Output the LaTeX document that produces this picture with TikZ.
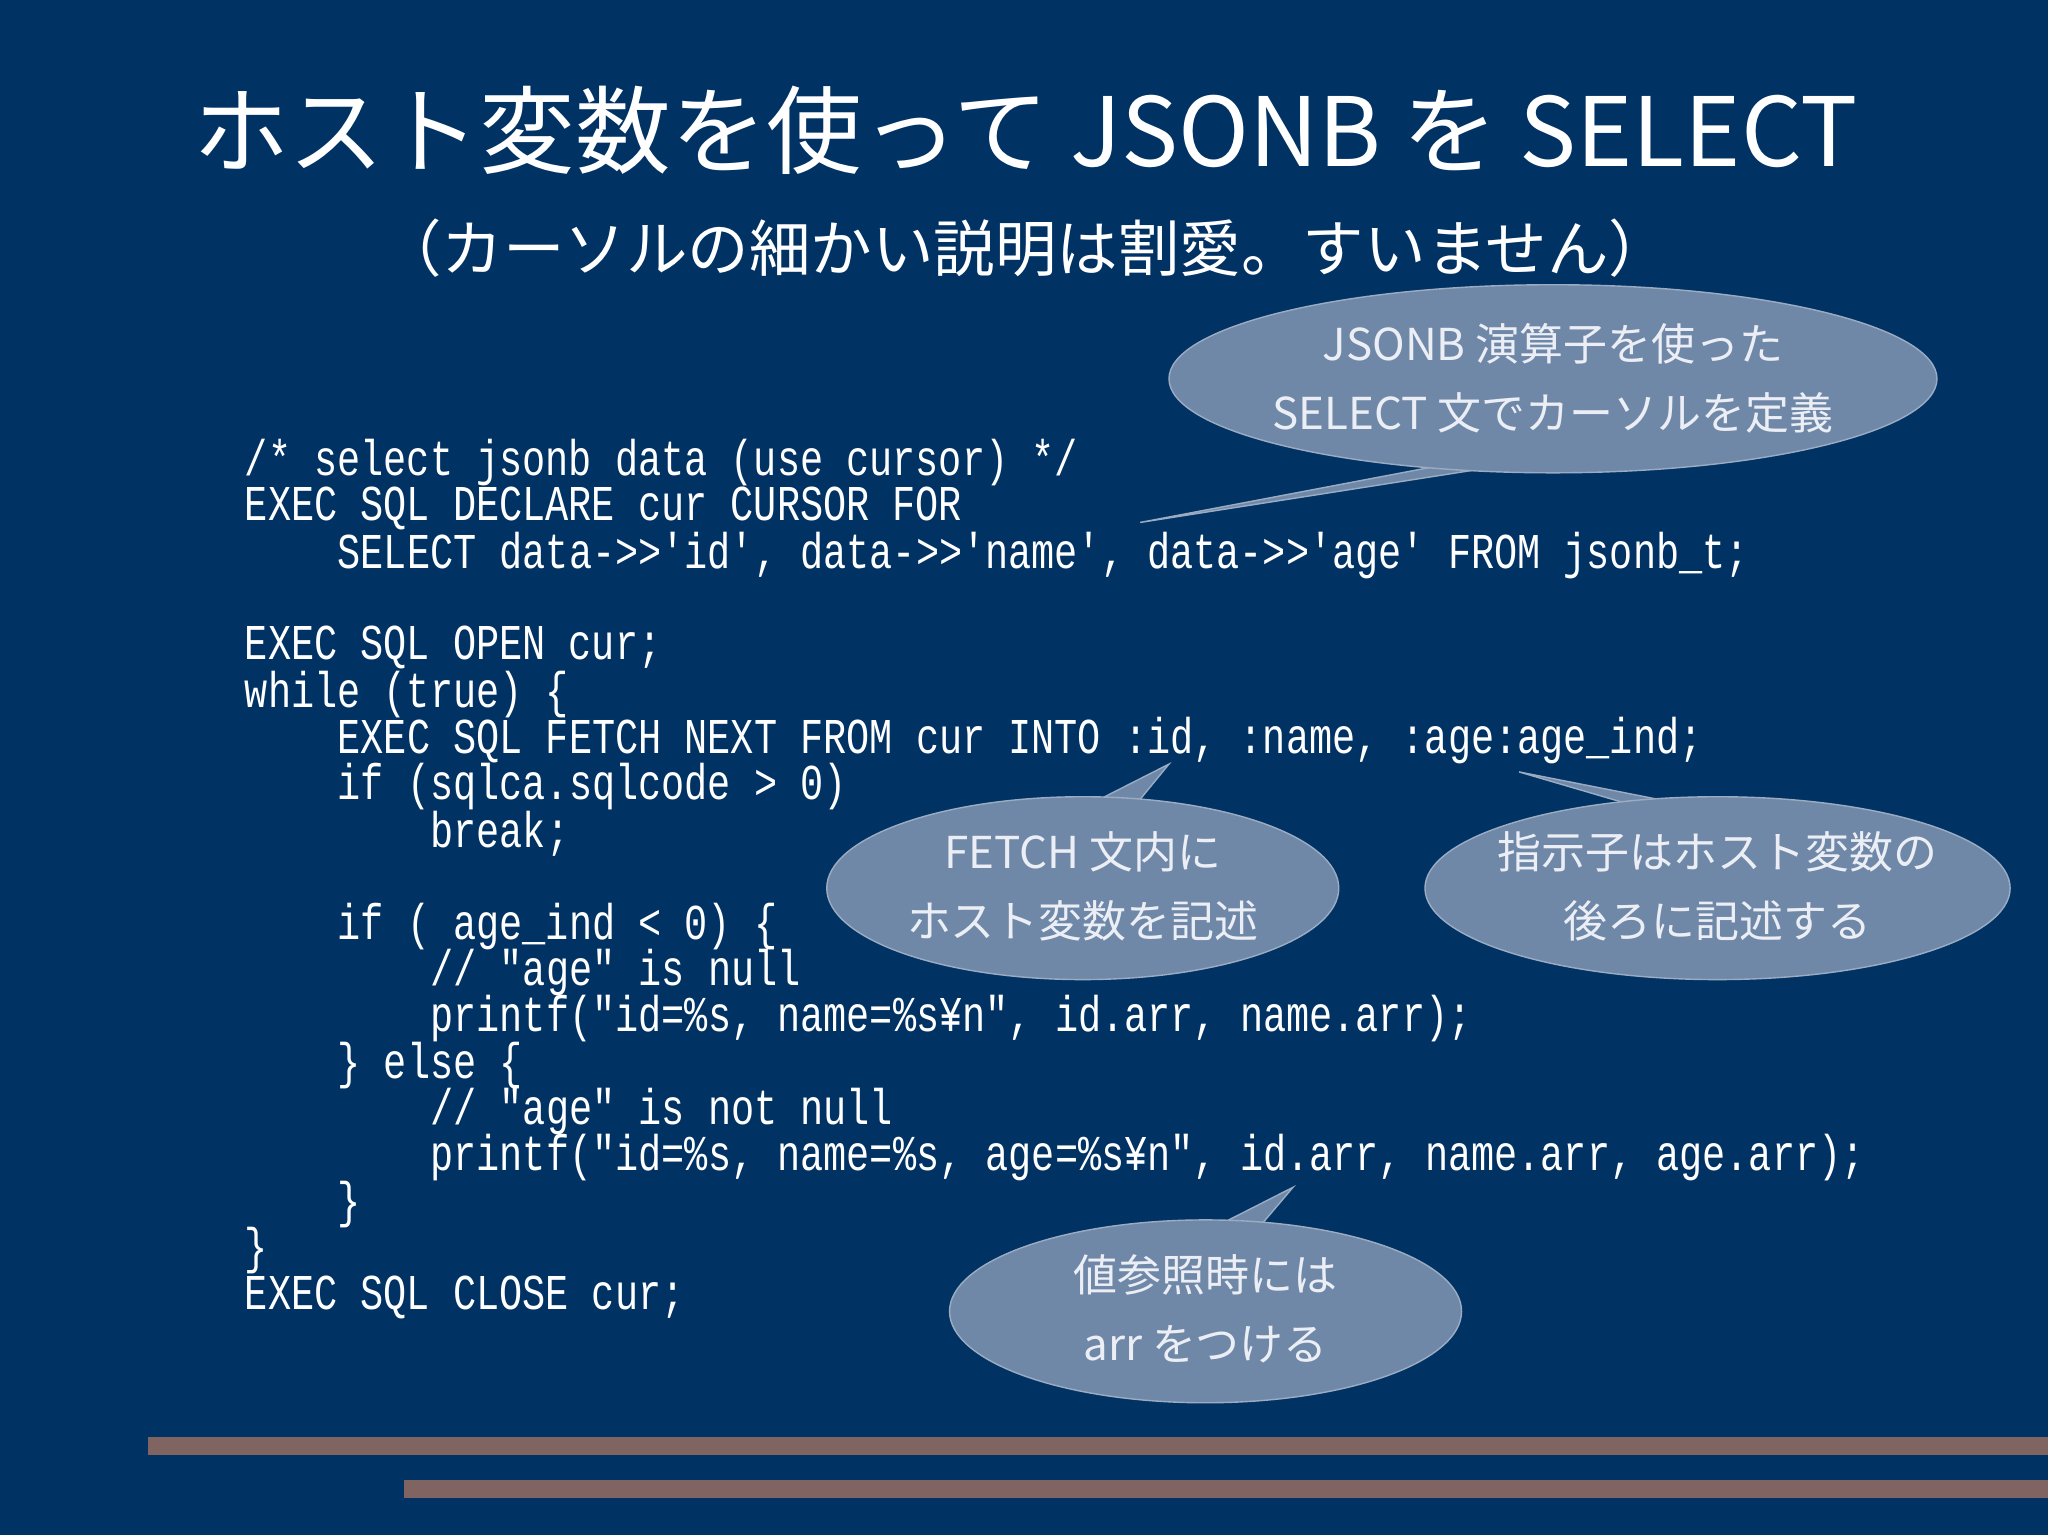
\documentclass[tikz,border=0pt]{standalone}
\usepackage{fontspec}
\setmainfont{Noto Sans CJK JP}
\newfontfamily\codefont{Liberation Mono}
\definecolor{bg}{RGB}{0,50,100}
\definecolor{bub}{RGB}{112,136,168}
\definecolor{bar}{RGB}{128,100,98}
\definecolor{txt}{RGB}{235,238,245}
\tikzset{
 codeline/.style={anchor=west,inner sep=0pt,text=white,font=\codefont\fontsize{10.97}{12}\selectfont},
 bubtext/.style={text=txt,font=\fontsize{12.5}{14}\selectfont,inner sep=0pt},
 bubble/.style={fill=bub,draw=bub!70!white,line width=0.4pt}
}
\newcommand{\cl}[3]{\node[codeline] (c#1) at (#2,{354+35.5*#1}) {\scalebox{1}[1.3]{#3}};}
\begin{document}
\begin{tikzpicture}[x=0.01306cm,y=-0.01306cm]
\fill[bg] (0,0) rectangle (1568,1175);
\useasboundingbox (0,0) rectangle (1568,1175);
\fill[bar] (113,1100) rectangle (1568,1114);
\fill[bar] (309,1133) rectangle (1568,1147);
\node[text=white,font=\fontsize{27.2}{30}\selectfont] (title) at (785,100) {ホスト変数を使って JSONB を SELECT};
\node[text=white,font=\fontsize{17.5}{20}\selectfont] (sub) at (785,190) {（カーソルの細かい説明は割愛。すいません）};
\cl{0}{187}{/* select jsonb data (use cursor) */}
\cl{1}{187}{EXEC SQL DECLARE cur CURSOR FOR}
\cl{2}{258}{SELECT data->>'id', data->>'name', data->>'age' FROM jsonb\_t;}
\cl{4}{187}{EXEC SQL OPEN cur;}
\cl{5}{187}{while (true) \{}
\cl{6}{258}{EXEC SQL FETCH NEXT FROM cur INTO :id, :name, :age:age\_ind;}
\cl{7}{258}{if (sqlca.sqlcode > 0)}
\cl{8}{329}{break;}
\cl{10}{258}{if ( age\_ind < 0) \{}
\cl{11}{329}{// "age" is null}
\cl{12}{329}{printf("id=\%s, name=\%s¥n", id.arr, name.arr);}
\cl{13}{258}{\} else \{}
\cl{14}{329}{// "age" is not null}
\cl{15}{329}{printf("id=\%s, name=\%s, age=\%s¥n", id.arr, name.arr, age.arr);}
\cl{16}{258}{\}}
\cl{17}{187}{\}}
\cl{18}{187}{EXEC SQL CLOSE cur;}
% bubbles
\coordinate (t1) at (873,400);
\coordinate (t2) at (895,585);
\coordinate (t3) at (1163,591);
\coordinate (t4) at (990,909);
\fill[bubble] (1110,355) -- (t1) -- (1160,355) -- cycle;
\fill[bubble] (1189,290) ellipse [x radius=294,y radius=72];
\fill[bubble] (830,618) -- (t2) -- (868,618) -- cycle;
\fill[bubble] (829,680) ellipse [x radius=196,y radius=70];
\fill[bubble] (1255,618) -- (t3) -- (1300,618) -- cycle;
\fill[bubble] (1315,680) ellipse [x radius=224,y radius=70];
\fill[bubble] (925,942) -- (t4) -- (962,942) -- cycle;
\fill[bubble] (923,1004) ellipse [x radius=196,y radius=70];
\node[bubtext] (b1a) at (1189,263) {JSONB 演算子を使った};
\node[bubtext] (b1b) at (1189,316) {SELECT 文でカーソルを定義};
\node[bubtext] (b2a) at (829,652) {FETCH 文内に};
\node[bubtext] (b2b) at (829,705) {ホスト変数を記述};
\node[bubtext] (b3a) at (1315,652) {指示子はホスト変数の};
\node[bubtext] (b3b) at (1315,705) {後ろに記述する};
\node[bubtext] (b4a) at (923,976) {値参照時には};
\node[bubtext] (b4b) at (923,1029) {arr をつける};
\end{tikzpicture}
\end{document}
